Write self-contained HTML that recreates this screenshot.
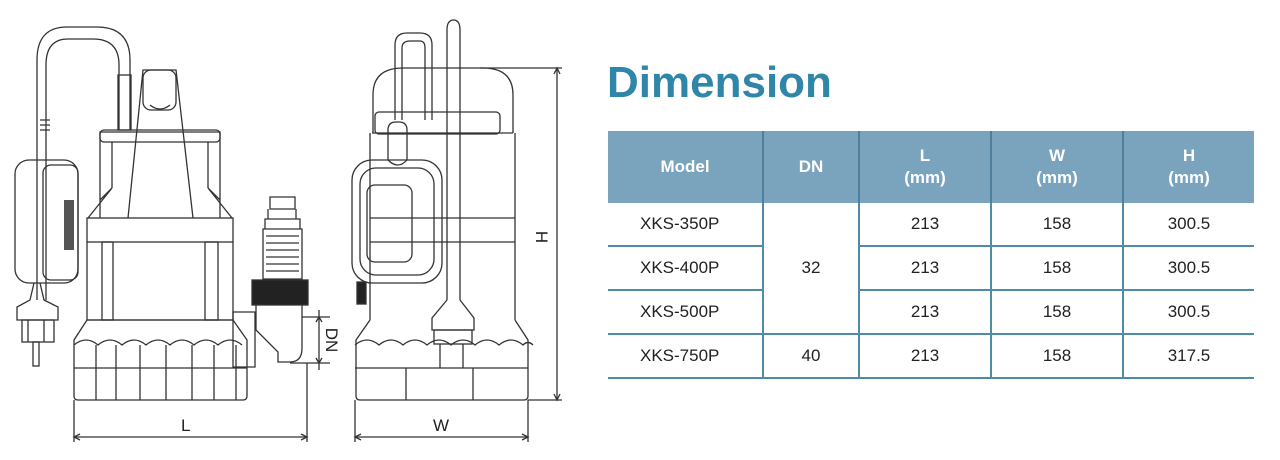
<!DOCTYPE html>
<html><head><meta charset="utf-8"><style>
body{margin:0;width:1280px;height:460px;background:#fff;position:relative;overflow:hidden;font-family:"Liberation Sans",sans-serif}
#t{position:absolute;left:607px;top:57px;font-size:44px;font-weight:bold;color:#2f86a8;line-height:52px}
table{position:absolute;left:608px;top:131px;border-collapse:collapse;font-size:17px;color:#222}
th{background:#7aa3bd;color:#fff;font-weight:bold;height:72px;padding:0;line-height:22px;border-left:2px solid #4f7f9c}
th:first-child,td:first-child{border-left:none}
td{text-align:center;height:42px;padding:0;border-bottom:2px solid #4f8aa6;border-left:2px solid #4f8aa6}
td.m{text-align:left;padding-left:32px}
</style></head><body>
<svg width="580" height="460" style="position:absolute;left:0;top:0" fill="none" stroke="#333" stroke-width="1.3">
<!-- Left pump base -->
<path d="M87 320L74 340V396q0 4 4 4H243q4 0 4 -4V340L233 320Z"/>
<path d="M74 345 q12 -10 24 0 q12 -10 24 0 q12 -10 24 0 q12 -10 24 0 q12 -10 24 0 q12 -10 24 0 q12 -10 24 0"/>
<line x1="74" y1="368" x2="247" y2="368"/>
<path d="M96 345V400M116 345V400M140 345V400M166 345V400M192 345V400M214 345V400M236 345V400"/>
<rect x="87" y="218" width="146" height="24"/>
<path d="M87 242V320M233 242V320M87 320H233"/>
<rect x="102" y="242" width="11" height="78"/><rect x="205" y="242" width="13" height="78"/>
<path d="M100 218V132H220V218"/><rect x="100" y="130" width="120" height="12" rx="4"/>
<path d="M88 218L112 188M232 218L208 188M112 188V142M208 188V142M100 200L112 188M220 200L208 188"/>
<path d="M128 218L143 70H176L193 218"/><rect x="143" y="70" width="33" height="40" rx="8"/>
<path d="M150 105q10 8 20 0"/>
<path d="M37 300V60q0 -33 30 -33h30q33 0 33 33V130M46 300V65q0 -26 22 -26h25q26 0 26 26V130"/>
<rect x="118" y="75" width="13" height="55"/>
<path d="M40 120h10M40 125h10M40 130h10"/>
<rect x="15" y="160" width="63" height="123" rx="14"/><rect x="43" y="165" width="35" height="115" rx="8"/>
<rect x="64" y="200" width="10" height="50" fill="#555" stroke="none"/>
<path d="M34 283L30 300L17 307V320H58V307L44 300L40 283"/><rect x="22" y="320" width="32" height="22"/>
<rect x="33" y="342" width="6" height="24"/><path d="M28 320V342M44 320V342"/>
<!-- outlet -->
<path d="M270 197h25v12h-25zM268 209v10h28v-10M265 219h35v10h-35zM263 229h39v50h-39z"/>
<path d="M266 236h33M266 243h33M266 250h33M266 257h33M266 264h33M266 271h33"/>
<rect x="252" y="280" width="56" height="25" fill="#222"/>
<path d="M256 305V330l22 22v10h12q12 0 12 -14V305"/>
<path d="M233 312h22v55h-22z"/>
<path d="M302 317H330M290 363H330"/><path d="M319 310V370"/>
<path d="M316 322l3 -5 3 5M316 358l3 5 3 -5"/>
<!-- L dim -->
<path d="M74 400V442M307 363V442M74 437H307"/><path d="M80 434l-6 3 6 3M301 434l6 3 -6 3"/>
<!-- Right pump -->
<path d="M370 320L356 340V396q0 4 4 4H524q4 0 4 -4V340L515 320"/>
<path d="M355 345 q12 -10 24 0 q12 -10 24 0 q12 -10 24 0 q12 -10 24 0 q12 -10 24 0 q12 -10 24 0 q12 -10 24 0 q5 -5 10 0"/>
<line x1="355" y1="368" x2="528" y2="368"/>
<path d="M406 368V400M473 368V400"/>
<path d="M370 242V320M515 242V320M370 242H515M370 218H515"/>
<path d="M370 133V242M515 133V242M372 133H513"/><rect x="375" y="112" width="125" height="22" rx="4"/>
<path d="M373 133V95q0 -27 30 -27h80q30 0 30 27V133"/>
<path d="M395 120V45q0 -12 12 -12h13q12 0 12 12V120M402 120V48q0 -7 8 -7h10q5 0 5 7V120"/>
<rect x="352" y="160" width="90" height="123" rx="20"/><rect x="360" y="168" width="74" height="107" rx="16"/>
<rect x="367" y="185" width="45" height="77" rx="8"/>
<path d="M388 160V130q0 -8 8 -8h3q8 0 8 8V160M388 160q10 10 19 0"/>
<path d="M447 300V30q0 -10 6.5 -10t6.5 10V300"/>
<path d="M447 300L432 318V330H474V318L460 300"/><rect x="434" y="330" width="38" height="14"/>
<path d="M440 344V368M463 344V368"/>
<rect x="357" y="282" width="9" height="22" fill="#222"/>
<!-- W dim -->
<path d="M355 400V442M528 400V442M355 437H528"/><path d="M361 434l-6 3 6 3M522 434l6 3 -6 3"/>
<!-- H dim -->
<path d="M480 68H562M528 400H562M557 68V400"/><path d="M554 74l3 -6 3 6M554 394l3 6 3 -6"/>
<g stroke="none" fill="#222" font-family="Liberation Sans,sans-serif" font-size="17">
<text x="181" y="431">L</text><text x="433" y="431">W</text>
<text transform="translate(536,237) rotate(90)" text-anchor="middle">H</text>
<text transform="translate(326,340) rotate(90)" text-anchor="middle">DN</text>
</g>
</svg>
<div id="t">Dimension</div>
<table>
<tr><th style="width:154px">Model</th><th style="width:94px">DN</th><th style="width:130px">L<br>(mm)</th><th style="width:130px">W<br>(mm)</th><th style="width:130px">H<br>(mm)</th></tr>
<tr><td class="m">XKS-350P</td><td rowspan="3" style="border-bottom:2px solid #4f8aa6">32</td><td>213</td><td>158</td><td>300.5</td></tr>
<tr><td class="m">XKS-400P</td><td>213</td><td>158</td><td>300.5</td></tr>
<tr><td class="m">XKS-500P</td><td>213</td><td>158</td><td>300.5</td></tr>
<tr><td class="m">XKS-750P</td><td>40</td><td>213</td><td>158</td><td>317.5</td></tr>
</table>
</body></html>
